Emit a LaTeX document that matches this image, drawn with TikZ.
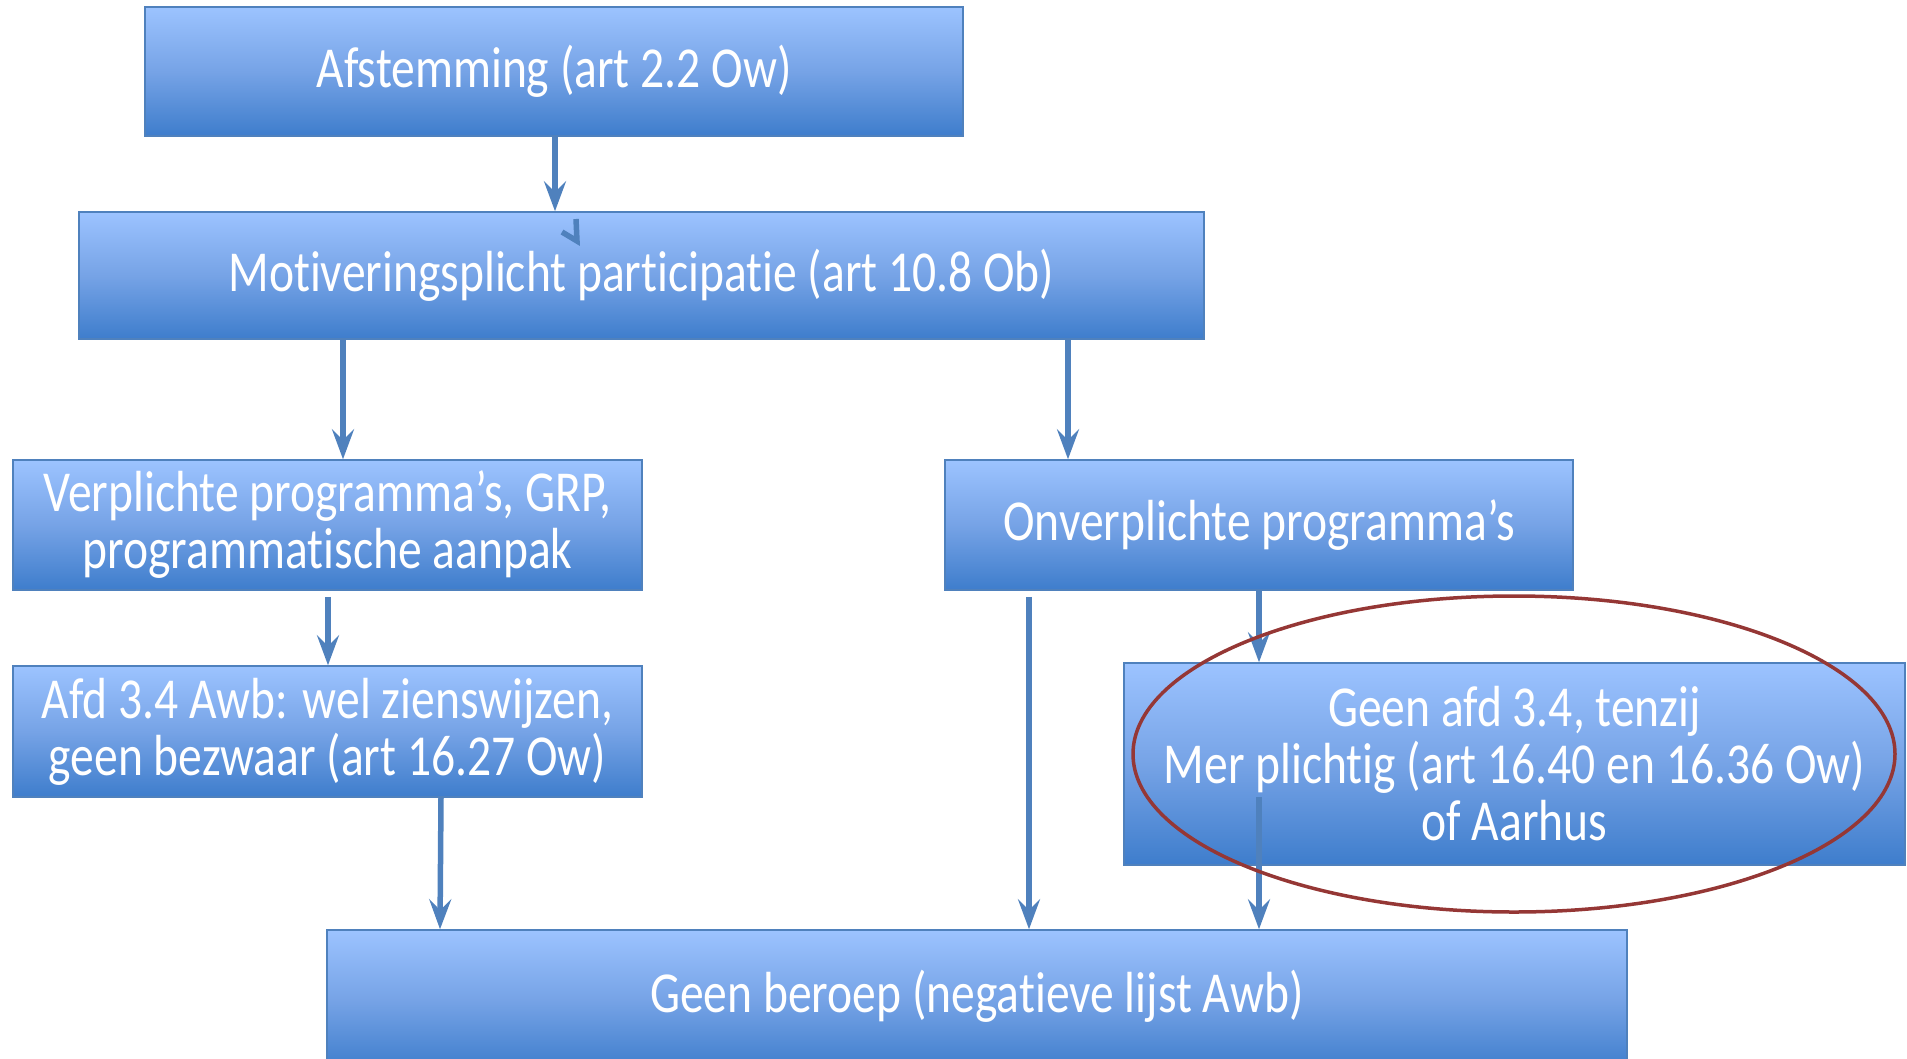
\documentclass[tikz,border=0pt]{standalone}
\usepackage{fontspec}
\setmainfont{Carlito}[FakeStretch=0.82, Ligatures={NoCommon,NoContextual}, Contextuals=NoAlternate]
\usetikzlibrary{arrows.meta,calc}
\definecolor{boxtop}{RGB}{156,195,255}
\definecolor{boxmid}{RGB}{118,163,230}
\definecolor{boxbot}{RGB}{62,125,204}
\definecolor{boxline}{RGB}{79,129,189}
\definecolor{ovalred}{RGB}{149,55,53}
\tikzset{
  flowbox/.style={draw=boxline, line width=1.5pt, rectangle, top color=boxtop, bottom color=boxbot, middle color=boxmid,
    text=white, align=center, inner sep=0pt, font=\fontsize{58}{57}\selectfont},
  arr/.style={draw=boxline, line width=5.5pt, -{Stealth[length=30pt, width=22pt, inset=11pt]}},
}
\begin{document}
\begin{tikzpicture}[x=1pt,y=-1pt]
\useasboundingbox (0,0) rectangle (1907,1058);
\node[flowbox, minimum width=818pt, minimum height=129pt] (b1) at (554,71.5) {Afstemming (art 2.2 Ow)};
\node[flowbox, minimum width=1125pt, minimum height=127pt] (b2) at (641.5,275.5) {Motiveringsplicht participatie (art 10.8 Ob)};
\node[flowbox, minimum width=629pt, minimum height=130pt] (b3) at (327.5,525) {Verplichte programma’s, GRP,\\programmatische aanpak};
\node[flowbox, minimum width=628pt, minimum height=130pt] (b4) at (1259,525) {Onverplichte programma’s};
\node[flowbox, minimum width=629pt, minimum height=131pt] (b5) at (327.5,731.5) {Afd 3.4 Awb: wel zienswijzen,\\geen bezwaar (art 16.27 Ow)};
\node[flowbox, minimum width=781pt, minimum height=202pt] (b6) at (1514.5,764) {Geen afd 3.4, tenzij\\Mer plichtig (art 16.40 en 16.36 Ow)\\of Aarhus};
\node[flowbox, minimum width=1300pt, minimum height=140pt] (b7) at (977,1000) {};
\node[text=white, font=\fontsize{58}{57}\selectfont] (t7) at (977,996) {Geen beroep (negatieve lijst Awb)};

\draw[arr] (555,0 |- b1.south) -- (555,0 |- b2.north);
\draw[arr] (343,0 |- b2.south) -- (343,0 |- b3.north);
\draw[arr] (1068,0 |- b2.south) -- (1068,0 |- b4.north);
\draw[arr] ($(328,0 |- b3.south)+(0,6)$) -- (328,0 |- b5.north);
\draw[arr] (441,0 |- b5.south) -- (440,0 |- b7.north);
\draw[arr] ($(1029,0 |- b4.south)+(0,6)$) -- (1029,0 |- b7.north);
\draw[arr] (1259,0 |- b4.south) -- (1259,0 |- b6.north);
\coordinate (c6) at (1259,797);
\draw[arr] (c6) -- (1259,0 |- b7.north);
% stray mark in second box
\draw[boxline, line width=5.5pt] (576,219) -- (577,241) -- (562,232);
\draw[ovalred, line width=3.5pt] (1514,754) ellipse [x radius=381, y radius=158];
\end{tikzpicture}
\end{document}
